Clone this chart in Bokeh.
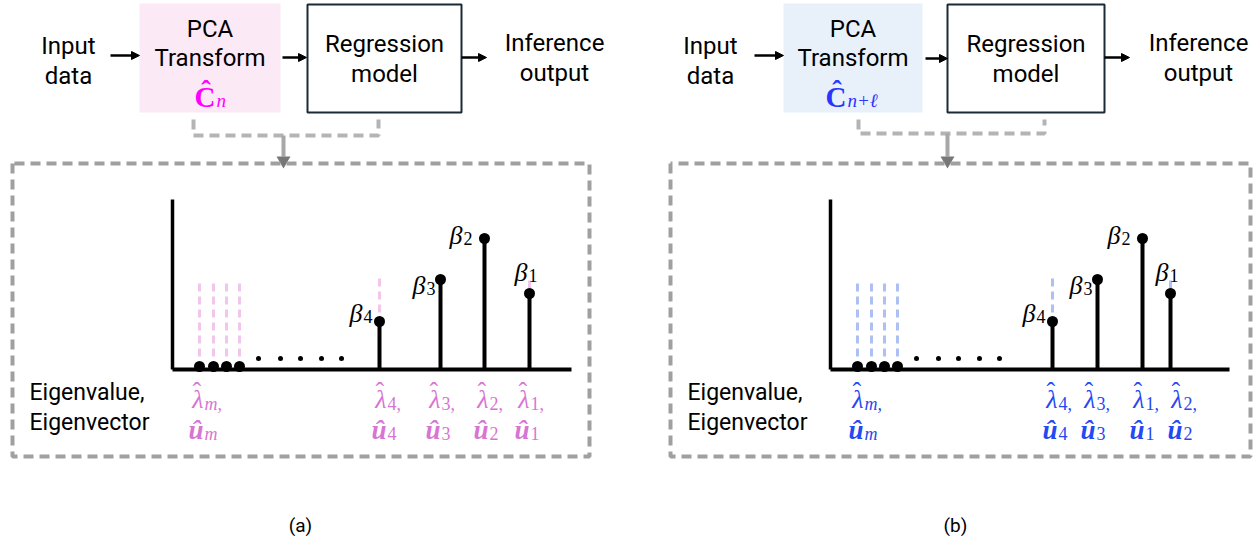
import math
from bokeh.plotting import figure
from bokeh.models import Range1d, ColumnDataSource, Arrow, NormalHead
from bokeh.embed import file_html
from bokeh.resources import INLINE
from bokeh.core.properties import value

# ---------------- data ----------------
beta_subs = ["4", "3", "2", "1"]            # beta coefficient indices
beta_height = [48, 90, 131, 76]             # stem heights (|beta|)
eig_pos_a = [207, 268, 312, 357]            # eigenvalue position of each beta, panel (a)
eig_pos_b = [222, 267, 312, 340]            # panel (b)
eig_label_subs_a = ["m", "4", "3", "2", "1"]
eig_label_subs_b = ["m", "4", "3", "1", "2"]
eig_label_pos_a = [31, 214, 268, 316, 357]
eig_label_pos_b = [33, 227, 265, 314, 352]
small_eig_pos = [27, 41, 54, 67]            # tiny eigenvalues lambda_m ...
ellipsis_pos = [86, 108, 128, 149, 169]
ghost_small = [86, 86, 86, 86]              # faded (old) heights of tiny eigen-directions
ghost_beta = [91, None, None, 89]           # faded heights above beta4 / beta1

SANS = "Roboto"
SERIF = "Liberation Serif"
W, H = 1254, 550
TY = -8   # vertical text correction

p = figure(width=W, height=H, x_range=Range1d(0, W), y_range=Range1d(H, 0),
           output_backend="svg", toolbar_location=None, min_border=0,
           x_axis_location=None, y_axis_location=None)
p.grid.visible = False
p.outline_line_color = None
p.background_fill_color = "white"
p.border_fill_color = "white"


def txt(x, y, s, size, color="black", font=SANS, style="normal", align="center", baseline="alphabetic"):
    p.text(x=[x], y=[y + TY], text=[s], text_font=value(font), text_font_size=f"{size}px",
           text_color=color, text_font_style=style, text_align=align, text_baseline=baseline)


def sub_label(x, y, base, sub, color, size, sub_size, font=SERIF, base_style="italic",
              sub_style="normal", dy=4, hat=False):
    txt(x, y, base, size, color, font, base_style, "right")
    txt(x + 1, y + dy, sub, sub_size, color, font, sub_style, "left")
    if hat:
        txt(x - size * 0.26, y - size * 0.30, "\u02c6", size, color, font, "normal", "center")


def panel(ox, box_l, box_r, pca_l, pca_r, reg_l, reg_r, pca_fill, c_color, c_sub,
          c_anchor, in_x, out_x, arrows, conn, eig_pos, label_pos, label_subs,
          label_color, ghost_color, caption, cap_x):
    base_y = 369
    # top block diagram
    p.quad(left=[pca_l], right=[pca_r], top=[3], bottom=[112], fill_color=pca_fill, line_color=None)
    p.quad(left=[reg_l], right=[reg_r], top=[4], bottom=[112], fill_color=None,
           line_color="#1b2a35", line_width=2)
    txt(in_x, 53, "Input", 24); txt(in_x, 83, "data", 24)
    pc = (pca_l + pca_r) / 2
    txt(pc, 36, "PCA", 24); txt(pc, 65, "Transform", 24)
    sub_label(c_anchor, 104, "\u0108", c_sub, c_color, 29, 19, SERIF, "bold", "italic", dy=4)
    rc = (reg_l + reg_r) / 2
    txt(rc, 51, "Regression", 24); txt(rc, 81, "model", 24)
    txt(out_x, 50, "Inference", 24); txt(out_x, 80, "output", 24)
    for (x0, x1, y) in arrows:
        p.add_layout(Arrow(x_start=x0, y_start=y, x_end=x1, y_end=y, line_width=2.5,
                           line_color="black",
                           end=NormalHead(size=8, fill_color="black", line_color="black")))
    # dashed connector
    cl, cr, cy, cm = conn
    p.line([cl, cl, cr, cr], [119, cy, cy, 119], line_color="#b4b4b4", line_width=4, line_dash="10 6")
    p.line([cm, cm], [cy, 156], line_color="#a8a8a8", line_width=4)
    p.scatter([cm], [160], marker="inverted_triangle", size=14, fill_color="#777777", line_color=None)
    # dashed frame
    p.line([box_l, box_l, box_r, box_r, box_l], [163, 456, 456, 163, 163],
           line_color="#a0a0a0", line_width=4, line_dash="10 6")
    txt(box_l + 17, 400, "Eigenvalue,", 23, align="left")
    txt(box_l + 17, 430, "Eigenvector", 23, align="left")
    # ghost dashed lines
    gx = [ox + v for v in small_eig_pos]
    p.segment(x0=gx, x1=gx, y0=[base_y - h for h in ghost_small], y1=[base_y - 8] * len(gx),
              line_color=ghost_color, line_width=3, line_dash="8 5")
    for xp, gh, bh in zip(eig_pos, ghost_beta, beta_height):
        if gh is None:
            continue
        if gh - bh > 20:
            p.line([ox + xp] * 2, [base_y - gh, base_y - bh], line_color=ghost_color,
                   line_width=3, line_dash="8 5")
        else:
            p.line([ox + xp] * 2, [base_y - gh, base_y - bh], line_color=ghost_color, line_width=3)
    # axes
    p.line([ox, ox], [199, base_y], line_color="black", line_width=3.5)
    p.line([ox, ox + 399], [base_y, base_y], line_color="black", line_width=4)
    # tiny eigenvalues and ellipsis
    p.scatter(gx, [base_y - 3] * len(gx), size=11, fill_color="black", line_color=None)
    ex = [ox + v for v in ellipsis_pos]
    p.scatter(ex, [base_y - 11] * len(ex), size=5, fill_color="black", line_color=None)
    # stems
    sx = [ox + v for v in eig_pos]
    src = ColumnDataSource(dict(x=sx, y0=[base_y] * 4, y1=[base_y - h for h in beta_height]))
    p.segment(x0="x", x1="x", y0="y0", y1="y1", source=src, line_color="black", line_width=4)
    p.scatter(x="x", y="y1", source=src, size=11, fill_color="black", line_color=None)
    beta_dx = [-17, -15, -22, -2]
    beta_dy = [0, 14, 5, -13]
    for xi, hi, s, dx, dy in zip(sx, beta_height, beta_subs, beta_dx, beta_dy):
        sub_label(xi + dx, base_y - hi + dy, "\u03b2", s, "black", 26, 18, SERIF, "italic", "normal", dy=3)
    # eigen labels
    for lp, s in zip(label_pos, label_subs):
        ax = ox + lp
        ss = s + ","
        sub_style = "italic" if s == "m" else "normal"
        sub_label(ax, 407, "\u03bb", ss, label_color, 26, 18, SERIF, "italic", sub_style, dy=4, hat=True)
        sub_label(ax, 437, "\u00fb", s, label_color, 27, 18, SERIF, "bold italic", sub_style, dy=4)
    txt(cap_x, 533, caption, 19)


panel(172, 12, 589, 139, 280, 307, 461, "#fbe9f6", "#ff00ff", "n", 215, 68, 554,
      [(110, 139, 55), (282, 306, 57), (461, 486, 57)], (193, 378, 135, 283),
      eig_pos_a, eig_label_pos_a, eig_label_subs_a, "#d775d4", "#f2c6ec", "(a)", 300)
panel(830, 670, 1250, 783, 922, 947, 1104, "#e8f1fa", "#2b35ff", "n+\u2113", 846, 710, 1198,
      [(754, 783, 55), (925, 947, 58), (1104, 1129, 57)], (858, 1044, 133, 947),
      eig_pos_b, eig_label_pos_b, eig_label_subs_b, "#2448f2", "#aebff4", "(b)", 955)

open("out.html", "w").write(file_html(p, INLINE))
